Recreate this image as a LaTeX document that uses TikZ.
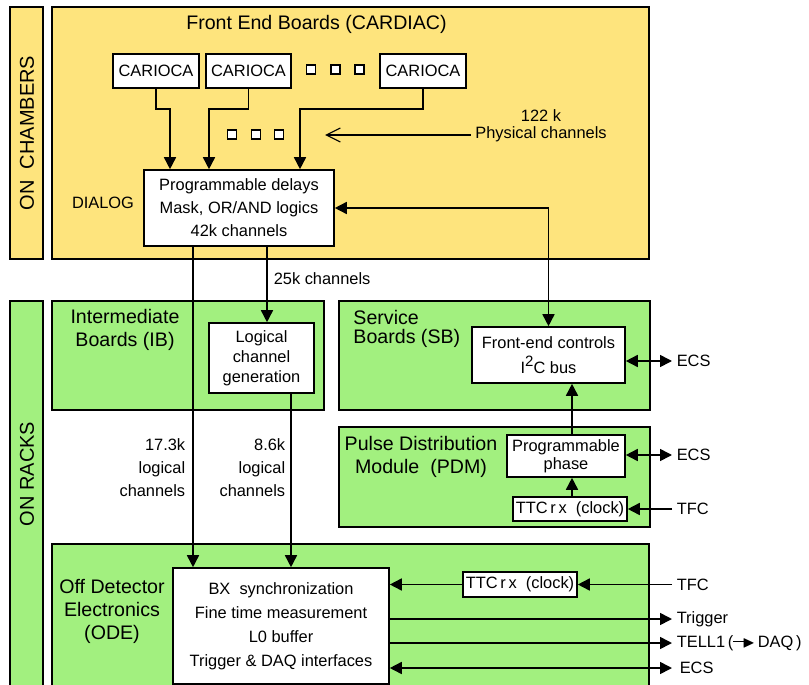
\documentclass[tikz,border=0pt]{standalone}
\usepackage{fontspec}
\setmainfont{Liberation Sans}
\usepackage{amssymb}
\usetikzlibrary{arrows.meta,positioning,calc}

\definecolor{chamberyellow}{RGB}{254,228,125}
\definecolor{rackgreen}{RGB}{162,240,127}

\begin{document}
\begin{tikzpicture}[
  x=0.5pt,y=-0.5pt,
  >={Triangle[length=6pt,width=6pt]},
  font=\fontsize{8.2}{10}\selectfont,
  line width=0.8pt,
  bar/.style={draw, rotate=90, minimum height=16.5pt, inner sep=0pt},
  sidetext/.style={rotate=90, font=\fontsize{10}{12}\selectfont},
  board/.style={draw, fill=rackgreen, inner sep=0pt, minimum height=54.5pt},
  title/.style={align=center, font=\fontsize{9.8}{11.5}\selectfont},
  box/.style={draw, fill=white, align=center, inner sep=1pt},
  dotbox/.style={draw, fill=white, minimum size=4.5pt, inner sep=0pt, line width=0.7pt},
  lbl/.style={align=center, inner sep=2pt},
  arrow/.style={->},
  both/.style={<->}
]
% Bounding box of the whole figure
\useasboundingbox (0,0) rectangle (809,685);

% On chambers
\node[bar, fill=chamberyellow, minimum width=126pt] (chambers) at (26.5,133) {};
\node[sidetext] (chamberstext) at (27,133) {ON\ \ CHAMBERS};
\node[draw, fill=chamberyellow, minimum width=298.5pt, minimum height=126pt, inner sep=0pt] (feb) at (350.5,133) {};
\node[title] (febtitle) at (316.5,24) {Front End Boards (CARDIAC)};

\node[box, minimum width=43pt, minimum height=17pt] (car1) at (156,71) {CARIOCA};
\node[box, minimum width=42.5pt, minimum height=17pt] (car2) at (248.5,71) {CARIOCA};
\node[box, minimum width=43pt, minimum height=17pt] (car3) at (423,71) {CARIOCA};
\foreach \xd in {311,335.5,359.5} \node[dotbox] at (\xd,69.5) {};
\foreach \xd in {232,256,279} \node[dotbox] at (\xd,134.5) {};

\node[box, minimum width=95pt, minimum height=38pt] (dialog) at (239,208)
  {Programmable delays\\[1.5pt] Mask, OR/AND logics\\[1.5pt] 42k channels};
\node[lbl] (dialogname) at (103,203) {DIALOG};

\node[lbl] (phys) at (541,126) {122 k\\[-1.5pt] Physical channels};
\coordinate (physend) at (325,135);
\draw[-{Straight Barb[length=7pt,width=7pt]}, line width=0.6pt] (phys.west |- physend) -- (physend);

\draw[arrow] (car1.south) -- ++(0,20) -| ([xshift=-34.5pt]dialog.north);
\draw[arrow] (car2.south) -- ++(0,20) -| ([xshift=-15pt]dialog.north);
\draw[arrow] (car3.south) -- ++(0,20) -| ([xshift=30.5pt]dialog.north);

% On racks
\node[bar, fill=rackgreen, minimum width=197pt] (racks) at (26.5,498) {};
\node[sidetext] (rackstext) at (27,474) {ON RACKS};

\node[board, minimum width=136pt] (ib) at (188,355.5) {};
\node[title] (ibtitle) at (125,330) {Intermediate\\ Boards (IB)};
\node[box, minimum width=52.5pt, minimum height=35pt] (logic) at (261.5,358) {Logical\\ channel\\ generation};

\node[board, minimum width=155.5pt] (sb) at (494.5,355.5) {};
\node[title, align=left, anchor=west] (sbtitle) at (346,329) {Service\\[-2pt] Boards (SB)};
\node[box, minimum width=76.5pt, minimum height=28pt] (fec) at (548.5,355)
  {Front-end controls\\[2.5pt] I\raisebox{0.75ex}{\fontsize{7.5}{8}\selectfont 2}C bus};

\node[board, minimum width=155.5pt, minimum height=50pt] (pdm) at (494.5,477) {};
\node[title] (pdmtitle) at (421,457) {Pulse Distribution\\ Module\ \ (PDM)};
\node[box, minimum width=59pt, minimum height=21pt] (phase) at (566,456) {Programmable\\[-1pt] phase};
\node[box, minimum width=57pt, minimum height=12pt, inner sep=0pt] (ttcpdm) at (570,509) {TTC\,r\,x\ \ (clock)};

\node[board, minimum width=298.5pt, minimum height=73pt] (ode) at (350.5,617) {};
\node[title] (odetitle) at (112,611) {Off Detector\\ Electronics\\ (ODE)};
\node[box, minimum width=108pt, minimum height=58pt] (odein) at (281,626)
  {BX\ \ synchronization\\[2pt] Fine time measurement\\[2pt] L0 buffer\\[2pt] Trigger \& DAQ interfaces};
\node[box, minimum width=57pt, minimum height=12.5pt, inner sep=0pt] (ttcode) at (520,584.5) {TTC\,r\,x\ \ (clock)};

% Channel labels
\node[lbl, anchor=west] (ch25) at (269,279) {25k channels};
\node[lbl, align=right, anchor=east] (ch17) at (190,468) {17.3k\\[1.5pt] logical\\[1.5pt] channels};
\node[lbl, align=right, anchor=east] (ch86) at (290,468) {8.6k\\[1.5pt] logical\\[1.5pt] channels};

% Outside connections
\node[lbl, anchor=west] (ecsfe) at (672,361) {ECS};
\node[lbl, anchor=west] (ecspdm) at (672,455) {ECS};
\node[lbl, anchor=west] (tfcpdm) at (672,509) {TFC};
\node[lbl, anchor=west] (tfcode) at (672,584.5) {TFC};
\node[lbl, anchor=west] (trig) at (672,619) {Trigger};
\node[lbl, anchor=west] (tell) at (672,643) {TELL1\,(\rule[0.55ex]{0.7em}{0.8pt}\kern-0.15em$\blacktriangleright$\,DAQ\,)};
\node[lbl, anchor=west] (ecsode) at (675,668) {ECS};

\coordinate (col17) at (193,0);
\coordinate (col25) at (267,0);
\coordinate (col86) at (291,0);
\coordinate (colpd) at (572,0);

\draw[arrow] (dialog.south -| col17) -- (odein.north -| col17);
\draw[arrow] (dialog.south -| col25) -- (logic.north -| col25);
\draw[arrow] (logic.south -| col86) -- (odein.north -| col86);
\draw[both] (dialog.east) -| (fec.north);
\draw[arrow] (phase.north -| colpd) -- (fec.south -| colpd);
\draw[arrow] (ttcpdm.north -| colpd) -- (phase.south -| colpd);

\draw[both] (fec.east |- ecsfe) -- (ecsfe.west);
\draw[both] (phase.east |- ecspdm) -- (ecspdm.west);
\draw[arrow] (tfcpdm.west) -- (ttcpdm.east |- tfcpdm);
\draw[arrow] (tfcode.west) -- (ttcode.east);
\draw[arrow] (ttcode.west) -- (odein.east |- ttcode);
\draw[arrow] (odein.east |- trig) -- (trig.west);
\draw[arrow] (odein.east |- tell) -- (tell.west);
\draw[both] (odein.east |- ecsode) -- ([xshift=-1.5pt]ecsode.west);
\end{tikzpicture}
\end{document}
